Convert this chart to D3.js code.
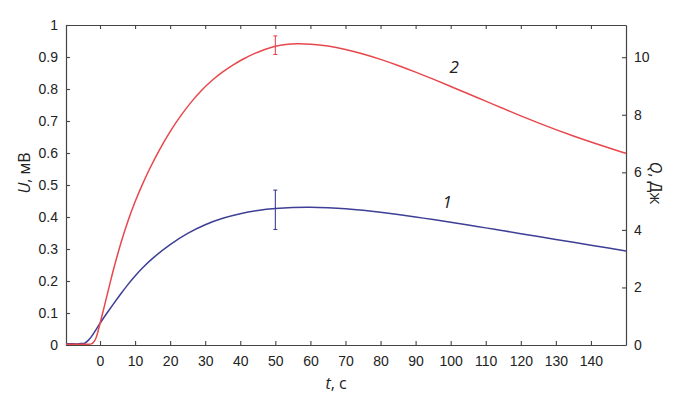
<!DOCTYPE html>
<html>
<head>
<meta charset="utf-8">
<script src="https://cdn.jsdelivr.net/npm/d3@7"></script>
<style>
  body { margin: 0; background: #fff; }
  svg text { fill: #222; }
</style>
</head>
<body>
<script>
// curve 1 (blue) and curve 2 (red), U in mV vs t in s
var t1 = [-9.7, -8, -6.5, -5.5, -4.5, -4, -3, -2, -1, 0, 2, 4, 6, 8, 10, 12, 15, 20, 25, 30, 35, 40, 45, 50, 55, 60, 65, 70, 75, 80, 85, 90, 95, 100, 105, 110, 115, 120, 125, 130, 135, 140, 145, 150];
var u1 = [0.004, 0.004, 0.003, 0.005, 0.004, 0.008, 0.018, 0.033, 0.05, 0.068, 0.1, 0.131, 0.161, 0.19, 0.216, 0.24, 0.272, 0.315, 0.35, 0.377, 0.397, 0.411, 0.421, 0.427, 0.43, 0.431, 0.429, 0.426, 0.421, 0.415, 0.408, 0.4, 0.392, 0.384, 0.375, 0.366, 0.357, 0.348, 0.339, 0.33, 0.321, 0.312, 0.303, 0.294];
var t2 = [-9.7, -6, -3, -2.3, -1.5, -1, -0.5, 0, 1, 2, 3, 4, 6, 8, 10, 12, 14, 17, 20, 23, 26, 29, 32, 35, 38, 41, 44, 47, 50, 53, 56, 60, 65, 70, 75, 80, 85, 90, 95, 100, 105, 110, 115, 120, 125, 130, 135, 140, 145, 150];
var u2 = [0.002, 0.002, 0.002, 0.003, 0.012, 0.025, 0.045, 0.068, 0.11, 0.155, 0.2, 0.243, 0.322, 0.39, 0.449, 0.5, 0.548, 0.612, 0.668, 0.717, 0.76, 0.797, 0.828, 0.854, 0.876, 0.895, 0.911, 0.924, 0.934, 0.94, 0.942, 0.941, 0.935, 0.924, 0.91, 0.893, 0.874, 0.853, 0.831, 0.808, 0.785, 0.762, 0.739, 0.716, 0.694, 0.673, 0.653, 0.634, 0.616, 0.599];
// error bars at t = 50
var errT = [50, 50];
var errLo = [0.361, 0.908];
var errHi = [0.484, 0.966];
var colors = ["#3d3f96", "#e8474c"];
var curveNames = ["1", "2"];
var nameT = [99, 101];
var nameU = [0.448, 0.868];

var uTicks = [0, 0.1, 0.2, 0.3, 0.4, 0.5, 0.6, 0.7, 0.8, 0.9, 1];
var tTicks = [0, 10, 20, 30, 40, 50, 60, 70, 80, 90, 100, 110, 120, 130, 140];
var qTicks = [0, 2, 4, 6, 8, 10];

var W = 677, H = 399;
var m = {left: 66, right: 51, top: 25, bottom: 54};

var svg = d3.select("body").append("svg").attr("width", W).attr("height", H);

var x = d3.scaleLinear().domain([-9.7, 150]).range([m.left, W - m.right]);
var y = d3.scaleLinear().domain([0, 1]).range([H - m.bottom, m.top]);
var yq = d3.scaleLinear().domain([0, 11.12]).range([H - m.bottom, m.top]);

var font = "'Liberation Sans', Arial, sans-serif";

// axes, ticks pointing inward
var gB = svg.append("g").attr("transform", "translate(0," + (H - m.bottom) + ")")
  .call(d3.axisBottom(x).tickValues(tTicks).tickSizeInner(-4).tickSizeOuter(0).tickPadding(11));
var gT = svg.append("g").attr("transform", "translate(0," + m.top + ")")
  .call(d3.axisTop(x).tickValues(tTicks).tickSizeInner(-4).tickSizeOuter(0).tickFormat(""));
var gL = svg.append("g").attr("transform", "translate(" + m.left + ",0)")
  .call(d3.axisLeft(y).tickValues(uTicks).tickSizeInner(-4).tickSizeOuter(0).tickPadding(8).tickFormat(d3.format("")));
var gR = svg.append("g").attr("transform", "translate(" + (W - m.right) + ",0)")
  .call(d3.axisRight(yq).tickValues(qTicks).tickSizeInner(-4).tickSizeOuter(0).tickPadding(8));

[gB, gT, gL, gR].forEach(function(g) {
  g.selectAll("path.domain").attr("stroke", "#444").attr("stroke-width", 1.2);
  g.selectAll(".tick line").attr("stroke", "#444").attr("stroke-width", 1.1);
  g.selectAll(".tick text").attr("font-family", font).attr("font-size", 14).attr("fill", "#222");
});

var line = d3.line()
  .x(function(d) { return x(d[0]); })
  .y(function(d) { return y(d[1]); })
  .curve(d3.curveBasis);

var series = [d3.zip(t1, u1), d3.zip(t2, u2)];
series.forEach(function(s, i) {
  svg.append("path")
    .attr("d", line(s))
    .attr("fill", "none")
    .attr("stroke", colors[i])
    .attr("stroke-width", 1.5);

  // error bar
  var ex = x(errT[i]);
  svg.append("line").attr("x1", ex).attr("x2", ex)
    .attr("y1", y(errLo[i])).attr("y2", y(errHi[i]))
    .attr("stroke", colors[i]).attr("stroke-width", 1.1);
  [errLo[i], errHi[i]].forEach(function(v) {
    svg.append("line").attr("x1", ex - 2).attr("x2", ex + 2)
      .attr("y1", y(v)).attr("y2", y(v))
      .attr("stroke", colors[i]).attr("stroke-width", 1.1);
  });

  svg.append("text")
    .attr("x", x(nameT[i])).attr("y", y(nameU[i]))
    .attr("text-anchor", "middle").attr("dy", "0.35em")
    .attr("font-family", "'Open Sans', sans-serif").attr("font-style", "italic")
    .attr("font-size", 17).text(curveNames[i]);
});

// axis titles
var tf = "'Open Sans', sans-serif";
var xt = svg.append("text").attr("x", 336).attr("y", 389).attr("text-anchor", "middle")
  .attr("font-family", tf).attr("font-size", 16);
xt.append("tspan").attr("font-style", "italic").text("t");
xt.append("tspan").text(", с");

var yt = svg.append("text").attr("transform", "translate(30,173) rotate(-90)")
  .attr("text-anchor", "middle").attr("font-family", tf).attr("font-size", 16);
yt.append("tspan").attr("font-style", "italic").text("U");
yt.append("tspan").text(", мВ");

var qt = svg.append("text").attr("transform", "translate(650,183) rotate(90)")
  .attr("text-anchor", "middle").attr("font-family", tf).attr("font-size", 16);
qt.append("tspan").attr("font-style", "italic").text("Q");
qt.append("tspan").text(", Дж");
</script>
</body>
</html>
